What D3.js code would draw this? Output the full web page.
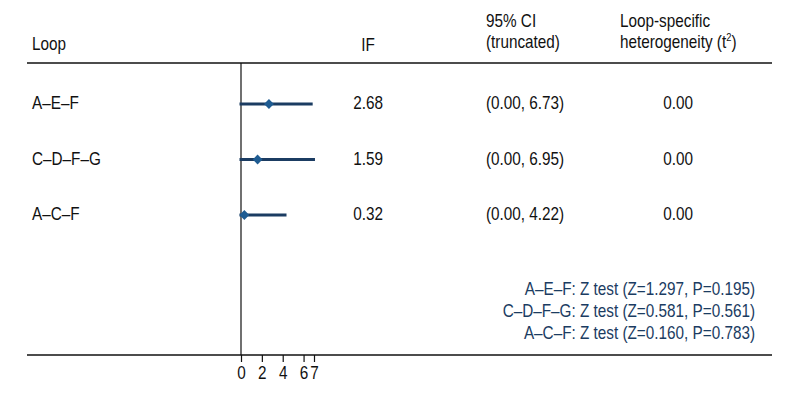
<!DOCTYPE html>
<html><head><meta charset="utf-8">
<script src="https://cdn.jsdelivr.net/npm/d3@7"></script>
<style>
body{margin:0;background:#fff;}
text{font-family:"Liberation Sans",Arial,sans-serif;}
</style></head>
<body><svg id="c" width="800" height="400"></svg>
<script>
const loops = ["A–E–F", "C–D–F–G", "A–C–F"];
const ifValues = [2.68, 1.59, 0.32];
const ciLower = [0.00, 0.00, 0.00];
const ciUpper = [6.73, 6.95, 4.22];
const tau2 = [0.00, 0.00, 0.00];
const xTicks = [0, 2, 4, 6, 7];
const zTests = [
  "A–E–F: Z test (Z=1.297, P=0.195)",
  "C–D–F–G: Z test (Z=0.581, P=0.561)",
  "A–C–F: Z test (Z=0.160, P=0.783)"
];

const svg = d3.select("#c");
const fs = 18, sx = 0.85;
const x = d3.scaleLinear().domain([0, 7]).range([241, 314]);
const y = d3.scalePoint().domain(loops).range([104, 215]);
const navy = "#1b3c62", blue = "#1f5c92", ink = "#111";

function label(g, tx, ty, str, anchor, color, size) {
  return g.append("text")
    .attr("transform", `translate(${tx},${ty}) scale(${sx},1)`)
    .attr("text-anchor", anchor || "start")
    .attr("font-size", size || fs).attr("fill", color || ink).text(str);
}

// table lines
svg.append("line").attr("x1",27).attr("x2",772).attr("y1",63).attr("y2",63).attr("stroke",ink).attr("stroke-width",1.5);
svg.append("line").attr("x1",27).attr("x2",772).attr("y1",355).attr("y2",355).attr("stroke",ink).attr("stroke-width",1.5);
svg.append("line").attr("x1",x(0)).attr("x2",x(0)).attr("y1",63).attr("y2",355).attr("stroke",ink).attr("stroke-width",1.2);

// headers
const hdr = svg.append("g");
label(hdr, 32, 50, "Loop");
label(hdr, 368, 51, "IF", "middle");
label(hdr, 486, 27, "95% CI");
label(hdr, 486, 48, "(truncated)");
label(hdr, 620, 27, "Loop-specific");
const h2 = label(hdr, 620, 48, "heterogeneity (t");
h2.append("tspan").attr("font-size",11).attr("dy",-7).text("2");
h2.append("tspan").attr("dy",7).text(")");

// rows
const rowG = svg.append("g");
loops.forEach((d, i) => {
  const yy = y(d);
  label(rowG, 32, yy + 5, d);
  label(rowG, 368, yy + 5, ifValues[i].toFixed(2), "middle");
  label(rowG, 486, yy + 5, `(${ciLower[i].toFixed(2)}, ${ciUpper[i].toFixed(2)})`);
  label(rowG, 678, yy + 5, tau2[i].toFixed(2), "middle");
});
rowG.selectAll("line").data(loops).join("line")
  .attr("x1",(d,i)=>x(ciLower[i])).attr("x2",(d,i)=>x(ciUpper[i]))
  .attr("y1",d=>y(d)).attr("y2",d=>y(d))
  .attr("stroke",navy).attr("stroke-width",3).attr("stroke-linecap","square");
rowG.selectAll("path").data(loops).join("path")
  .attr("d",d3.symbol(d3.symbolSquare,48))
  .attr("transform",(d,i)=>`translate(${x(ifValues[i])},${y(d)}) rotate(45)`).attr("fill",blue);

// axis
const ax = svg.append("g").attr("transform","translate(0,355)")
  .call(d3.axisBottom(x).tickValues(xTicks).tickSize(7).tickPadding(4).tickFormat(d3.format("d")));
ax.select(".domain").remove();
ax.selectAll("line").attr("stroke",ink).attr("stroke-width",1.2);
ax.selectAll("text").attr("font-size",fs).attr("fill",ink).attr("font-family",null)
  .attr("transform",`scale(${sx},1)`);

// footer
const foot = svg.append("g");
zTests.forEach((t, i) => label(foot, 755, 295 + i * 22, t, "end", navy));
</script></body></html>
